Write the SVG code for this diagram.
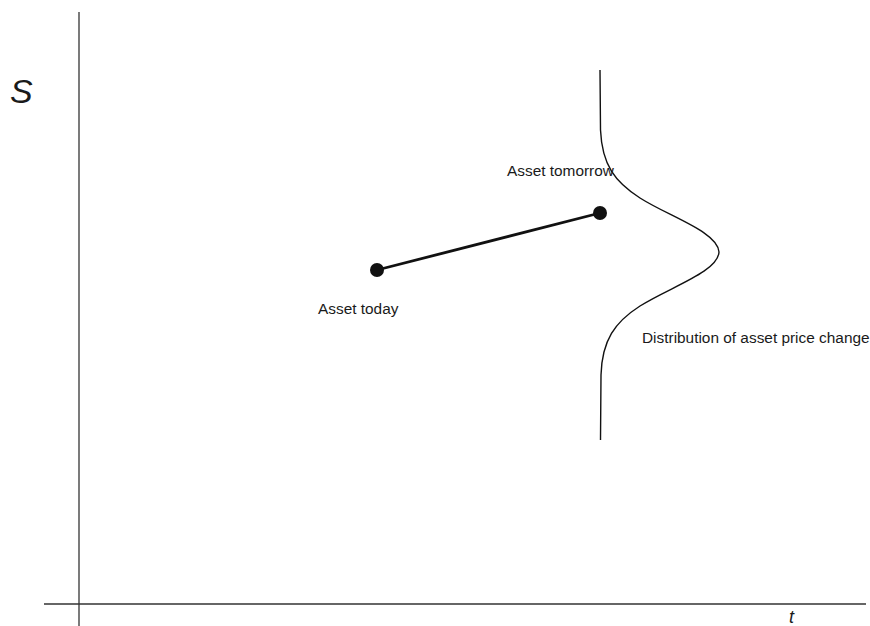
<svg xmlns="http://www.w3.org/2000/svg" width="870" height="626" viewBox="0 0 870 626">
<style>
.lbl{font-family:"Liberation Sans",Arial,sans-serif;font-size:15.4px;fill:#1a1a1a}
.ax{font-family:"Liberation Sans",Arial,sans-serif;font-style:italic;fill:#1a1a1a}
.axis{stroke:#333;stroke-width:1.3;fill:none}
.dot{fill:#111}
</style>
<rect width="870" height="626" fill="#fff"/>
<g id="axes">
<line class="axis" x1="79" y1="12" x2="79" y2="626"/>
<line class="axis" x1="44" y1="604" x2="866" y2="604"/>
<text class="ax" x="10" y="103" font-size="34">S</text>
<text class="ax" x="789" y="623" font-size="18">t</text>
</g>
<g id="distribution">
<path d="M600,70 L600.5,130 C602,165 615,182 640,198 C670,217 718,232 719,252 C718,272 670,287 640,306 C615,322 602,340 601,375 L600.5,440" fill="none" stroke="#111" stroke-width="1.4"/>
<text class="lbl" x="642" y="343">Distribution of asset price change</text>
</g>
<g id="connectors">
<line x1="377" y1="270" x2="600" y2="213" stroke="#111" stroke-width="2.8"/>
</g>
<g id="asset-today">
<circle class="dot" cx="377" cy="270" r="7"/>
<text class="lbl" x="318" y="314">Asset today</text>
</g>
<g id="asset-tomorrow">
<circle class="dot" cx="600" cy="213" r="7"/>
<text class="lbl" x="507" y="175.5">Asset tomorrow</text>
</g>
</svg>
